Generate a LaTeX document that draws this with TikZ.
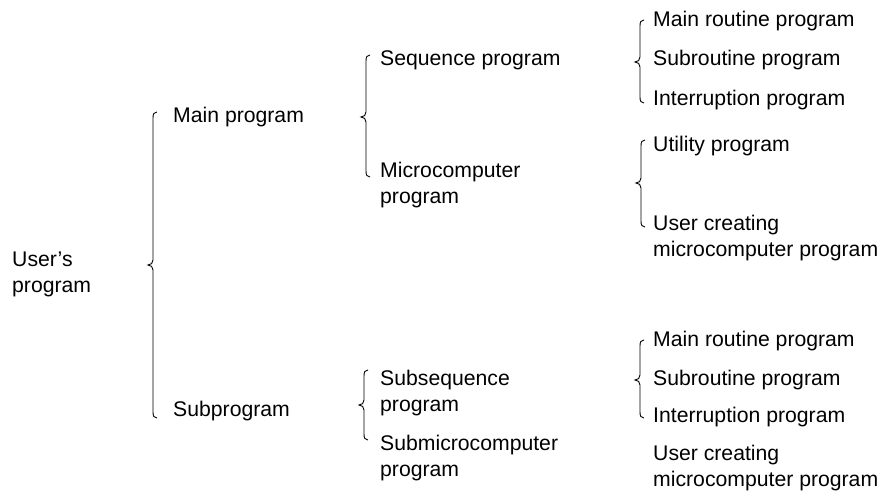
\documentclass[tikz,border=0pt]{standalone}
\usepackage{fontspec}
\setmainfont{Liberation Sans}
\tikzset{
  item/.style={anchor=base west, inner sep=0pt, align=left,
    font=\fontsize{21.2}{26}\selectfont},
  bracestyle/.style={draw=black, line width=0.9pt}
}
% left curly brace: x of the stem, top end, tip height, bottom end
\newcommand\leftcurly[4]{%
  \draw[bracestyle] ({#1+4},#2) .. controls ({#1+1},#2) and (#1,{#2+2}) .. (#1,{#2+6})
    -- (#1,{#3-5}) .. controls (#1,{#3-2}) and ({#1-2},#3) .. ({#1-5},#3)
    .. controls ({#1-2},#3) and (#1,{#3+2}) .. (#1,{#3+5})
    -- (#1,{#4-6}) .. controls (#1,{#4-2}) and ({#1+1},#4) .. ({#1+4},#4);}
\begin{document}
\begin{tikzpicture}[x=1pt, y=-1pt]
  \useasboundingbox (0,0) rectangle (881,492);

  % root (two-line texts are placed by the baseline of their last line)
  \node[item] (users) at (12,292.5) {User’s\\program};

  % first level
  \node[item] (mainprog) at (173,122.5) {Main program};
  \node[item] (subprog)  at (173,416.5) {Subprogram};

  % second level
  \node[item] (seq)      at (380,65.5)  {Sequence program};
  \node[item] (micro)    at (380,204) {Microcomputer\\program};
  \node[item] (subseq)   at (380,411) {Subsequence\\program};
  \node[item] (submicro) at (380,476.5) {Submicrocomputer\\program};

  % third level, upper half
  \node[item] (mainrt)   at (653,26.5)  {Main routine program};
  \node[item] (subrt)    at (653,66)    {Subroutine program};
  \node[item] (intr)     at (653,105.5) {Interruption program};
  \node[item] (util)     at (653,152)   {Utility program};
  \node[item] (usercm)   at (653,256)   {User creating\\microcomputer program};

  % third level, lower half
  \node[item] (mainrtb)  at (653,346.5) {Main routine program};
  \node[item] (subrtb)   at (653,385.5) {Subroutine program};
  \node[item] (intrb)    at (653,422.5) {Interruption program};
  \node[item] (usercmb)  at (653,486)   {User creating\\microcomputer program};

  % braces
  \leftcurly{153}{112}{265}{418}
  \leftcurly{366}{55}{117}{177}
  \leftcurly{364}{370}{405}{440}
  \leftcurly{640}{20}{62}{103}
  \leftcurly{641}{140}{183}{227}
  \leftcurly{640}{340}{380}{418}
\end{tikzpicture}
\end{document}
